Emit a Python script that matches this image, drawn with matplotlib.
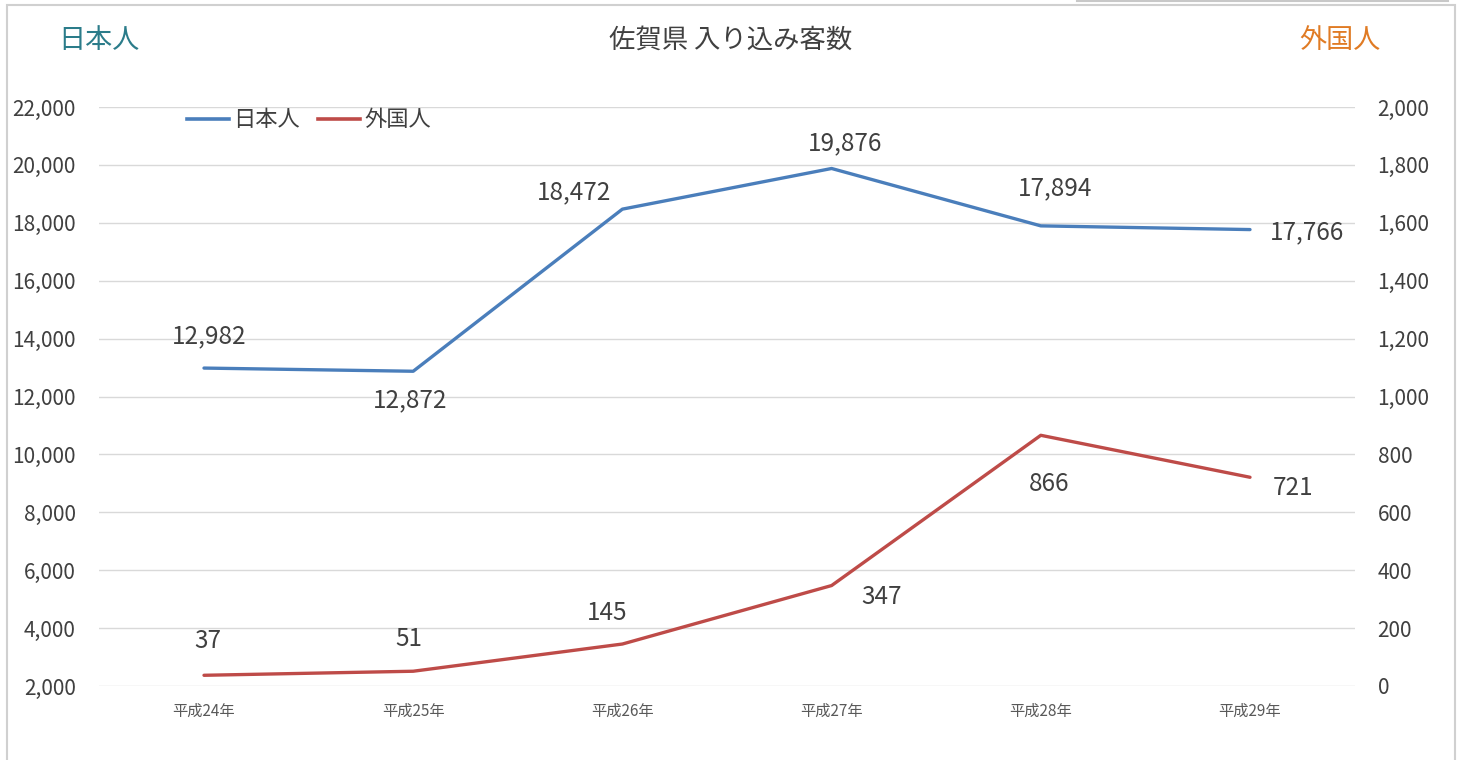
import matplotlib
matplotlib.use("Agg")
import matplotlib.pyplot as plt
from matplotlib.lines import Line2D
from matplotlib.patches import Rectangle

plt.rcParams['font.family'] = ['Noto Sans CJK JP', 'DejaVu Sans']

categories = ["平成24年", "平成25年", "平成26年", "平成27年", "平成28年", "平成29年"]
japanese = [12982, 12872, 18472, 19876, 17894, 17766]
foreign = [37, 51, 145, 347, 866, 721]
left_ticks = [2000, 4000, 6000, 8000, 10000, 12000, 14000, 16000, 18000, 20000, 22000]
right_ticks = [0, 200, 400, 600, 800, 1000, 1200, 1400, 1600, 1800, 2000]

BLUE = "#4A7EBB"
RED = "#BE4B48"
TEAL = "#2B7C8A"
ORANGE = "#E07B24"
TXT = "#404040"

W, H = 1463, 760
fig = plt.figure(figsize=(W / 100, H / 100), dpi=100)

def fx(px):
    return px / W

def fy(py):
    return 1 - py / H

ax = fig.add_axes([fx(99.4), fy(686), fx(1354.6) - fx(99.4), fy(107) - fy(686)])
ax2 = ax.twinx()

x = list(range(len(categories)))
ax.set_xlim(-0.5, len(categories) - 0.5)
ax.set_ylim(2000, 22000)
ax2.set_ylim(0, 2000)
ax.set_yticks(left_ticks)
ax2.set_yticks(right_ticks)
ax.set_yticklabels([f"{v:,}" for v in left_ticks])
ax2.set_yticklabels([f"{v:,}" for v in right_ticks])
ax.set_xticks(x)
ax.set_xticklabels(categories)

ax.grid(axis='y', color="#D9D9D9", linewidth=1)
ax.set_axisbelow(True)
for a in (ax, ax2):
    for s in a.spines.values():
        s.set_visible(False)
    a.tick_params(length=0)
ax.tick_params(axis='y', labelsize=15, labelcolor=TXT, pad=17)
ax2.tick_params(axis='y', labelsize=15, labelcolor=TXT, pad=16.5)
ax.tick_params(axis='x', labelsize=11, labelcolor="#595959", pad=12)

ax.plot(x, japanese, color=BLUE, linewidth=2.4, solid_capstyle='round', zorder=3)
ax2.plot(x, foreign, color=RED, linewidth=2.4, solid_capstyle='round', zorder=3)

jp_offsets = [(4, 23), (-2, -21), (-35, 12), (10, 18), (10, 27), (41, -2)]
fr_offsets = [(3, 25), (-3, 23), (-11, 22), (36, -8), (6, -35), (31, -8)]
for xi, v, off in zip(x, japanese, jp_offsets):
    ax.annotate(f"{v:,}", (xi, v), xytext=off, textcoords='offset points',
                ha='center', va='center', fontsize=17.5, color=TXT)
for xi, v, off in zip(x, foreign, fr_offsets):
    ax2.annotate(f"{v:,}", (xi, v), xytext=off, textcoords='offset points',
                 ha='center', va='center', fontsize=17.5, color=TXT)

# legend
handles = [Line2D([], [], color=BLUE, linewidth=2.6), Line2D([], [], color=RED, linewidth=2.6)]
fig.legend(handles, ["日本人", "外国人"], loc='center left', bbox_to_anchor=(fx(180), fy(120)),
           ncol=2, frameon=False, fontsize=16, handlelength=1.9, handletextpad=0.2,
           columnspacing=0.8, labelcolor=TXT, borderaxespad=0, borderpad=0.3)

fig.text(fx(731), fy(40), "佐賀県 入り込み客数", ha='center', va='center', fontsize=19, color=TXT)
fig.text(fx(99), fy(40), "日本人", ha='center', va='center', fontsize=19.5, color=TEAL)
fig.text(fx(1340), fy(40), "外国人", ha='center', va='center', fontsize=19.5, color=ORANGE)

# chart border
fig.patches.append(Rectangle((fx(7), fy(770)), fx(1455) - fx(7), fy(5) - fy(770),
                             transform=fig.transFigure, fill=False, edgecolor="#D0D0D0",
                             linewidth=1.5, zorder=0))
fig.lines.append(Line2D([fx(1077), fx(1448)], [fy(0.5), fy(0.5)], transform=fig.transFigure,
                        color="#C8C8C8", linewidth=1.5))

fig.savefig("out.png", dpi=100)
